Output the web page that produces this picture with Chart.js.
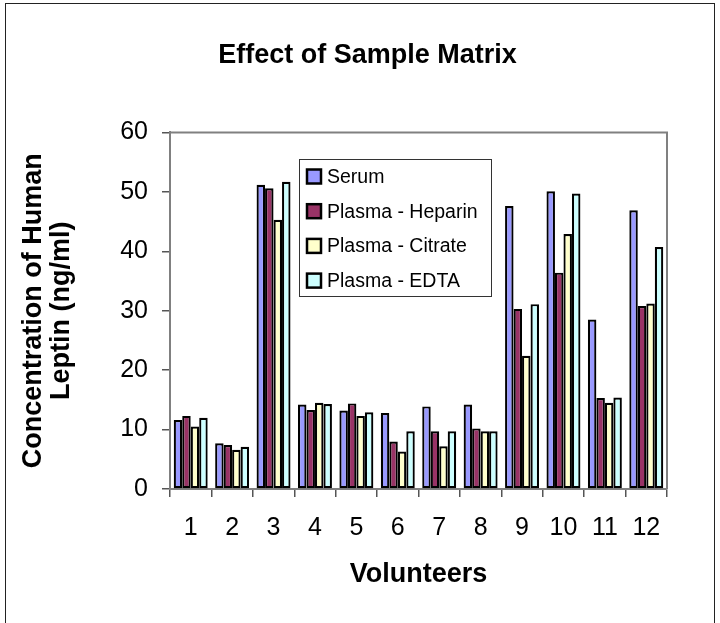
<!DOCTYPE html>
<html lang="en">
<head>
    <meta charset="UTF-8">
    <title>Effect of Sample Matrix</title>
    <script src="https://cdn.jsdelivr.net/npm/chart.js"></script>
    <style>
        html, body {
            margin: 0;
            padding: 0;
            background: #fff;
        }
        .wrap {
            position: relative;
            width: 720px;
            height: 623px;
            overflow: hidden;
        }
        .frame {
            position: absolute;
            left: 5px;
            top: 3px;
            width: 708px;
            height: 700px;
            border: 1.5px solid #222;
        }
        canvas {
            position: absolute;
            left: 0;
            top: 0;
        }
    </style>
</head>
<body>
    <div class="wrap">
        <div class="frame"></div>
        <canvas id="matrixChart" width="720" height="623"></canvas>
    </div>

    <script>
        // values (ng/ml)
        const volunteers = ['1', '2', '3', '4', '5', '6', '7', '8', '9', '10', '11', '12'];
        const serum   = [11.6, 7.7, 51.2, 14.2, 13.2, 12.8, 13.9, 14.2, 47.6, 50.1, 28.5, 46.9];
        const heparin = [12.3, 7.4, 50.6, 13.3, 14.4, 8.0, 9.7, 10.2, 30.3, 36.4, 15.3, 30.8];
        const citrate = [10.5, 6.6, 45.3, 14.5, 12.3, 6.3, 7.2, 9.7, 22.4, 42.9, 14.5, 31.2];
        const edta    = [12.0, 7.1, 51.7, 14.3, 12.9, 9.7, 9.7, 9.7, 31.1, 49.7, 15.4, 40.7];
        const yTicks  = [0, 10, 20, 30, 40, 50, 60];

        const font = 'Liberation Sans, Arial, sans-serif';

        function barSet(label, values, color) {
            return {
                label: label,
                data: values,
                backgroundColor: color,
                borderColor: '#000',
                borderWidth: 2.2,
                borderSkipped: false,
                categoryPercentage: 0.82,
                barPercentage: 1.0
            };
        }

        // grey border on top and right of the plot area
        const plotFrame = {
            id: 'plotFrame',
            afterDraw(chart) {
                const a = chart.chartArea;
                const ctx = chart.ctx;
                ctx.save();
                ctx.strokeStyle = '#808080';
                ctx.lineWidth = 2;
                ctx.beginPath();
                ctx.moveTo(a.left, a.top);
                ctx.lineTo(a.right, a.top);
                ctx.lineTo(a.right, a.bottom);
                ctx.stroke();
                ctx.restore();
            }
        };

        // boxed legend inside the plot, like the Excel original
        const boxLegend = {
            id: 'boxLegend',
            afterDraw(chart) {
                const ctx = chart.ctx;
                const x = 299, y = 159, w = 192, h = 137;
                ctx.save();
                ctx.fillStyle = '#fff';
                ctx.fillRect(x, y, w, h);
                ctx.strokeStyle = '#333';
                ctx.lineWidth = 1;
                ctx.strokeRect(x + 0.5, y + 0.5, w, h);
                ctx.font = '19.5px ' + font;
                ctx.textBaseline = 'middle';
                chart.data.datasets.forEach((ds, i) => {
                    const cy = 176.5 + i * 34.7;
                    ctx.fillStyle = ds.backgroundColor;
                    ctx.fillRect(307, cy - 7, 14, 14);
                    ctx.strokeStyle = '#000';
                    ctx.lineWidth = 2.5;
                    ctx.strokeRect(307, cy - 7, 14, 14);
                    ctx.fillStyle = '#000';
                    ctx.fillText(ds.label, 327, cy + 1);
                });
                ctx.restore();
            }
        };

        const chart = new Chart(document.getElementById('matrixChart'), {
            type: 'bar',
            data: {
                labels: volunteers,
                datasets: [
                    barSet('Serum', serum, '#9999FF'),
                    barSet('Plasma - Heparin', heparin, '#993366'),
                    barSet('Plasma - Citrate', citrate, '#FFFFCC'),
                    barSet('Plasma - EDTA', edta, '#CCFFFF')
                ]
            },
            options: {
                responsive: false,
                animation: false,
                devicePixelRatio: 1,
                layout: {
                    padding: { left: 15, right: 0, top: 0, bottom: 0 }
                },
                plugins: {
                    legend: { display: false },
                    tooltip: { enabled: false },
                    title: {
                        display: true,
                        text: 'Effect of Sample Matrix',
                        color: '#000',
                        font: { family: font, size: 27, weight: 'bold', lineHeight: 1.2 },
                        padding: { top: 39, bottom: 61 }
                    }
                },
                scales: {
                    x: {
                        afterFit(scale) { scale.height = 134; },
                        grid: {
                            offset: true,
                            drawOnChartArea: false,
                            drawTicks: true,
                            tickLength: 8,
                            color: '#555',
                            lineWidth: 1.5
                        },
                        border: { display: true, color: '#808080', width: 2 },
                        ticks: {
                            color: '#000',
                            padding: 16,
                            font: { family: font, size: 25 }
                        },
                        title: {
                            display: true,
                            text: 'Volunteers',
                            color: '#000',
                            font: { family: font, size: 27, weight: 'bold', lineHeight: 1.2 },
                            padding: { top: 0, bottom: 32 }
                        }
                    },
                    y: {
                        min: 0,
                        max: 60,
                        afterFit(scale) { scale.width = 155; },
                        afterBuildTicks(scale) {
                            scale.ticks = yTicks.map(v => ({ value: v }));
                        },
                        grid: {
                            drawOnChartArea: false,
                            drawTicks: true,
                            tickLength: 8,
                            color: '#555',
                            lineWidth: 1.5
                        },
                        border: { display: true, color: '#808080', width: 2 },
                        ticks: {
                            color: '#000',
                            padding: 14,
                            font: { family: font, size: 25 }
                        },
                        title: {
                            display: true,
                            text: ['Concentration of Human', 'Leptin (ng/ml)'],
                            color: '#000',
                            font: { family: font, size: 27, weight: 'bold', lineHeight: 1.05 },
                            padding: { top: 4, bottom: 0 }
                        }
                    },
                    yRight: {
                        position: 'right',
                        display: true,
                        afterFit(scale) { scale.width = 53; },
                        grid: { display: false },
                        border: { display: false },
                        ticks: { display: false }
                    }
                }
            },
            plugins: [plotFrame, boxLegend]
        });
    </script>
</body>
</html>
